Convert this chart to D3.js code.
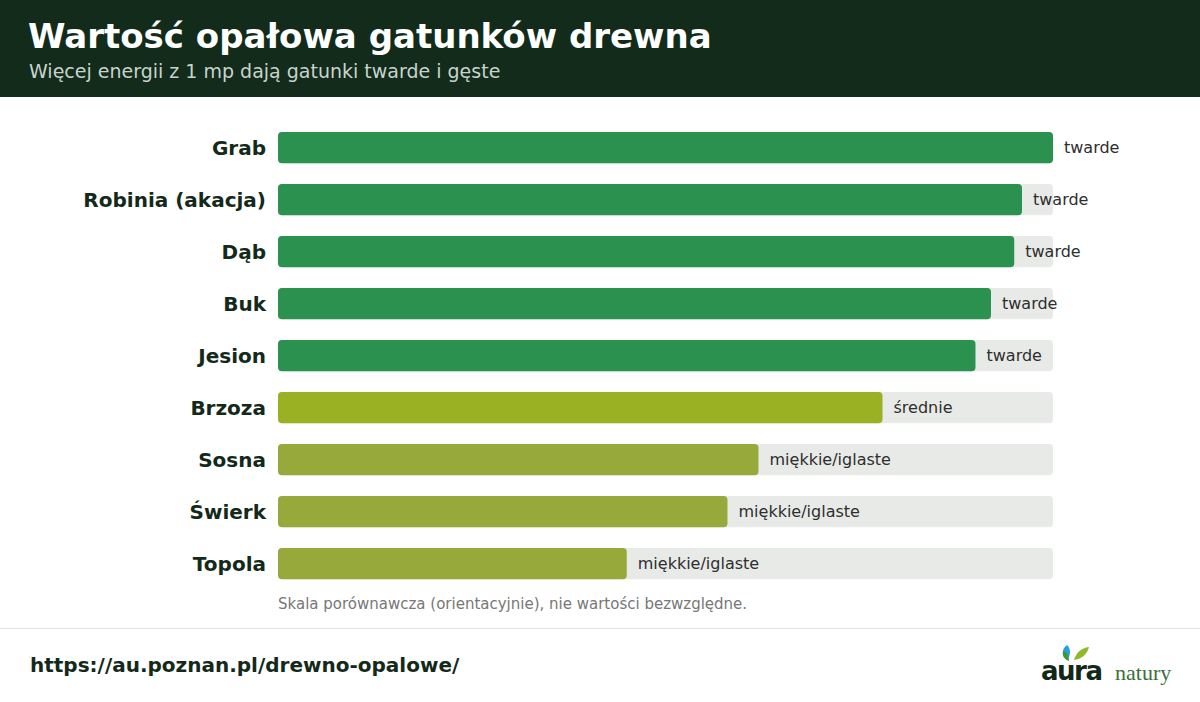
<!DOCTYPE html>
<html>
<head>
<meta charset="utf-8">
<script src="https://cdn.jsdelivr.net/npm/d3@7"></script>
<style>
  body { margin: 0; background: #fff; font-family: "DejaVu Sans", sans-serif; }
  svg { display: block; }
</style>
</head>
<body>
<div id="chart"></div>
<script>
// dane
const species = ['Grab', 'Robinia (akacja)', 'Dąb', 'Buk', 'Jesion', 'Brzoza', 'Sosna', 'Świerk', 'Topola'];
const values = [100, 96, 95, 92, 90, 78, 62, 58, 45];
const groups = ['twarde', 'twarde', 'twarde', 'twarde', 'twarde', 'średnie', 'miękkie/iglaste', 'miękkie/iglaste', 'miękkie/iglaste'];
const groupNames = ['twarde', 'średnie', 'miękkie/iglaste'];
const groupColors = ['#2b914e', '#9bb124', '#98a93c'];

const width = 1200, height = 702;
const margin = {top: 121.6, left: 278, right: 147};
const rowStep = 52;

const svg = d3.select('#chart').append('svg')
  .attr('width', width).attr('height', height);

// naglowek
svg.append('rect').attr('x', 0).attr('y', 0).attr('width', width).attr('height', 97)
  .attr('fill', '#122b1b');
svg.append('text').attr('x', 28).attr('y', 48)
  .attr('fill', '#fff').attr('font-size', 34).attr('font-weight', 'bold')
  .text('Wartość opałowa gatunków drewna');
svg.append('text').attr('x', 29).attr('y', 78)
  .attr('fill', '#c9d3cb').attr('font-size', 19)
  .text('Więcej energii z 1 mp dają gatunki twarde i gęste');

// skale
const x = d3.scaleLinear().domain([0, 100]).range([margin.left, width - margin.right]);
const y = d3.scaleBand().domain(species)
  .range([margin.top, margin.top + rowStep * species.length])
  .paddingInner(0.4).paddingOuter(0.2);
const color = d3.scaleOrdinal().domain(groupNames).range(groupColors);

const data = species.map((s, i) => ({name: s, value: values[i], group: groups[i]}));

const rows = svg.append('g').attr('class', 'rows')
  .selectAll('g').data(data).join('g')
  .attr('transform', d => `translate(0,${y(d.name)})`);

rows.append('rect')
  .attr('x', x(0)).attr('y', 0)
  .attr('width', x(100) - x(0)).attr('height', y.bandwidth())
  .attr('rx', 4).attr('fill', '#e8eae8');

rows.append('rect')
  .attr('x', x(0)).attr('y', 0)
  .attr('width', d => x(d.value) - x(0)).attr('height', y.bandwidth())
  .attr('rx', 4).attr('fill', d => color(d.group));

rows.append('text')
  .attr('x', x(0) - 12).attr('y', y.bandwidth() / 2)
  .attr('dy', '0.35em').attr('text-anchor', 'end')
  .attr('font-size', 20).attr('font-weight', 'bold').attr('fill', '#13291a')
  .text(d => d.name);

rows.append('text')
  .attr('x', d => x(d.value) + 11).attr('y', y.bandwidth() / 2)
  .attr('dy', '0.35em')
  .attr('font-size', 16).attr('fill', '#2e2e2e')
  .text(d => d.group);

// przypis
svg.append('text').attr('x', x(0)).attr('y', 609)
  .attr('font-size', 15).attr('fill', '#777')
  .text('Skala porównawcza (orientacyjnie), nie wartości bezwzględne.');

svg.append('line').attr('x1', 0).attr('x2', width).attr('y1', 628.5).attr('y2', 628.5)
  .attr('stroke', '#e3e3e3');

// stopka
svg.append('text').attr('x', 30).attr('y', 672)
  .attr('font-size', 20).attr('font-weight', 'bold').attr('fill', '#13291a')
  .text('https://au.poznan.pl/drewno-opalowe/');

// logo
const logo = svg.append('g').attr('transform', 'translate(1041,0)');
logo.append('path').attr('d', 'M26,645 C20,649 21,656 26,660 C30,655 30,649 26,645 Z').attr('fill', '#2aa0d8');
logo.append('path').attr('d', 'M22,651 C21,656 23,659 28,661 C28,656 26,652 22,651 Z').attr('fill', '#3a9a3a');
logo.append('path').attr('d', 'M33,660 C35,653 40,648 48,647 C46,655 40,659 33,660 Z').attr('fill', '#8fb82a');
logo.append('text').attr('x', 0).attr('y', 680)
  .attr('font-size', 26).attr('font-weight', 'bold').attr('fill', '#12291a')
  .attr('letter-spacing', -1.5)
  .text('aura');
logo.append('text').attr('x', 74).attr('y', 680)
  .attr('font-family', '"Liberation Serif", serif')
  .attr('font-size', 22).attr('fill', '#3c6e3c')
  .text('natury');
</script>
</body>
</html>
